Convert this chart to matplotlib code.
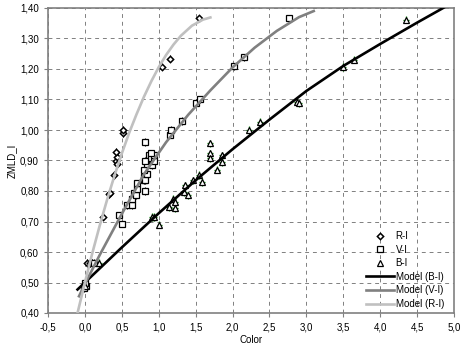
import matplotlib
matplotlib.use("Agg")
import matplotlib.pyplot as plt
from matplotlib.lines import Line2D
from matplotlib.ticker import FuncFormatter, MultipleLocator

plt.rcParams["font.family"] = ["Liberation Sans", "DejaVu Sans"]

# measured points (Color, ZMLD_I)
ri_x = [0.00, 0.03, 0.07, 0.10, 0.25, 0.33, 0.34, 0.39, 0.42, 0.44, 0.44, 0.42, 0.52, 0.52, 1.05, 1.15, 1.55]
ri_y = [0.49, 0.564, 0.564, 0.565, 0.716, 0.79, 0.795, 0.852, 0.90, 0.89, 0.912, 0.928, 0.99, 1.00, 1.208, 1.234, 1.366]

vi_x = [-0.01, 0.01, 0.00, 0.12, 0.46, 0.50, 0.57, 0.64, 0.64, 0.66, 0.69, 0.71, 0.71, 0.80, 0.82, 0.80, 0.82, 0.84,
        0.80, 0.84, 0.87, 0.89, 0.91, 0.93, 0.93, 0.89, 0.82, 0.82, 1.15, 1.16, 1.32, 1.50, 1.56, 2.02, 2.15, 2.77]
vi_y = [0.482, 0.49, 0.50, 0.565, 0.72, 0.693, 0.753, 0.753, 0.775, 0.792, 0.786, 0.808, 0.825, 0.835, 0.80, 0.846, 0.835, 0.857,
        0.868, 0.89, 0.917, 0.907, 0.885, 0.90, 0.917, 0.923, 0.961, 0.90, 0.985, 1.00, 1.03, 1.09, 1.10, 1.209, 1.238, 1.366]

bi_x = [0.00, 0.19, 0.91, 0.93, 1.01, 1.14, 1.20, 1.22, 1.22, 1.34, 1.36, 1.40, 1.47, 1.54, 1.59,
        1.70, 1.70, 1.70, 1.79, 1.86, 1.86, 2.22, 2.37, 2.87, 2.90, 3.50, 3.64, 4.35]
bi_y = [0.49, 0.564, 0.715, 0.715, 0.69, 0.748, 0.775, 0.764, 0.743, 0.797, 0.819, 0.786, 0.835, 0.852, 0.83,
        0.956, 0.923, 0.907, 0.87, 0.917, 0.895, 1.00, 1.027, 1.093, 1.087, 1.207, 1.231, 1.362]

# model curves
mod_bi_x = [-0.1, 0.0, 0.5, 1.0, 1.5, 2.0, 2.5, 3.0, 3.5, 4.0, 4.5, 5.0]
mod_bi_y = [0.477, 0.50, 0.615, 0.727, 0.835, 0.937, 1.034, 1.128, 1.21, 1.282, 1.352, 1.42]

mod_vi_x = [-0.08, 0.0, 0.2, 0.5, 0.8, 1.1, 1.4, 1.7, 2.0, 2.3, 2.6, 2.9, 3.1]
mod_vi_y = [0.455, 0.495, 0.59, 0.725, 0.855, 0.96, 1.05, 1.13, 1.205, 1.27, 1.325, 1.37, 1.39]

mod_ri_x = [-0.1, 0.0, 0.1, 0.2, 0.3, 0.4, 0.5, 0.6, 0.7, 0.8, 0.9, 1.0, 1.1, 1.2, 1.3, 1.45, 1.6, 1.7]
mod_ri_y = [0.40, 0.50, 0.596, 0.686, 0.771, 0.850, 0.923, 0.991, 1.052, 1.109, 1.160, 1.206, 1.246, 1.280, 1.309, 1.342, 1.362, 1.369]

err_x = 0.04
err_y = 0.012

fig = plt.figure(figsize=(4.63, 3.47), dpi=100)
ax = fig.add_axes([48 / 463, 34 / 347, 406 / 463, 305 / 347])

ax.errorbar(ri_x, ri_y, xerr=err_x, yerr=err_y, fmt="D", ms=3.2, mfc="white", mec="black", mew=1.1,
            ecolor="black", elinewidth=0.8, capsize=0, zorder=2)
ax.errorbar(vi_x, vi_y, xerr=err_x, yerr=err_y, fmt="s", ms=3.9, mfc="white", mec="black", mew=0.9,
            ecolor="black", elinewidth=0.8, capsize=0, zorder=2)
ax.errorbar(bi_x, bi_y, xerr=err_x, yerr=err_y, fmt="^", ms=4.2, mfc="white", mec="black", mew=0.9,
            ecolor="#008000", elinewidth=0.9, capsize=0, zorder=2)

ax.plot(mod_bi_x, mod_bi_y, color="black", lw=1.9, zorder=3)
ax.plot(mod_vi_x, mod_vi_y, color="#808080", lw=1.9, zorder=3)
ax.plot(mod_ri_x, mod_ri_y, color="#c0c0c0", lw=1.9, zorder=3)

ax.set_xlim(-0.5, 5.0)
ax.set_ylim(0.40, 1.40)
ax.xaxis.set_major_locator(MultipleLocator(0.5))
ax.yaxis.set_major_locator(MultipleLocator(0.1))
ax.xaxis.set_major_formatter(FuncFormatter(lambda v, p: f"{v:.1f}".replace(".", ",")))
ax.yaxis.set_major_formatter(FuncFormatter(lambda v, p: f"{v:.2f}".replace(".", ",")))
ax.tick_params(labelsize=7, length=3, width=0.8, color="#808080", direction="out")
ax.grid(True, color="#808080", linestyle=(0, (4, 4)), linewidth=0.7)
ax.set_axisbelow(True)
for s in ax.spines.values():
    s.set_color("#808080")
    s.set_linewidth(1.2)

ax.set_xlabel("Color", fontsize=7, labelpad=2)
ax.set_ylabel("ZMLD_I", fontsize=7, labelpad=2)

handles = [
    Line2D([], [], ls="none", marker="D", ms=3.2, mfc="white", mec="black", mew=1.1),
    Line2D([], [], ls="none", marker="s", ms=3.9, mfc="white", mec="black", mew=0.9),
    Line2D([], [], ls="none", marker="^", ms=4.2, mfc="white", mec="black", mew=0.9),
    Line2D([], [], color="black", lw=1.9),
    Line2D([], [], color="#808080", lw=1.9),
    Line2D([], [], color="#c0c0c0", lw=1.9),
]
labels = ["R-I", "V-I", "B-I", "Model (B-I)", "Model (V-I)", "Model (R-I)"]
fig.legend(handles, labels, loc="upper left", bbox_to_anchor=(366 / 463, 1 - 231 / 347), frameon=False,
           fontsize=7, borderpad=0, borderaxespad=0, handlelength=2.9, handletextpad=0.15, labelspacing=0.37)

fig.savefig("out.png", dpi=100)
